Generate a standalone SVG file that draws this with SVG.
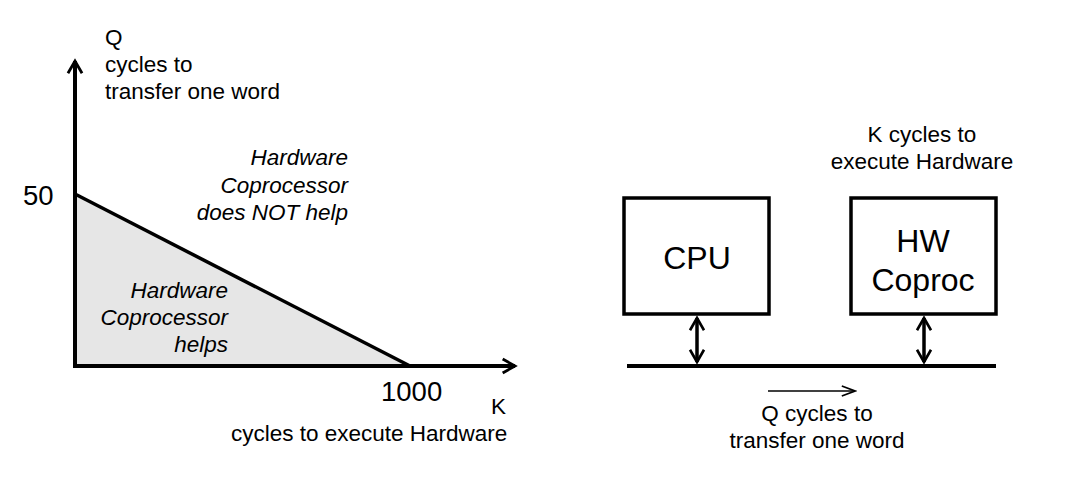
<svg xmlns="http://www.w3.org/2000/svg" width="1070" height="496" viewBox="0 0 1070 496">
<style>
text{font-family:"Liberation Sans",Arial,sans-serif;fill:#000}
.t{font-size:22.5px}
.n{font-size:27.5px}
.i{font-size:22.5px;font-style:italic}
.b{font-size:32px}
.ln{stroke:#000;fill:none}
</style>
<defs>
<marker id="ah" viewBox="0 0 10 10" refX="8" refY="5" markerWidth="4.4" markerHeight="4.4" orient="auto-start-reverse" markerUnits="strokeWidth">
<path d="M1,1 L8,5 L1,9" fill="none" stroke="#000" stroke-width="1.6"/>
</marker>
<marker id="ah3" viewBox="0 0 10 10" refX="8" refY="5" markerWidth="5" markerHeight="5" orient="auto-start-reverse" markerUnits="strokeWidth">
<path d="M1,1 L8,5 L1,9" fill="none" stroke="#000" stroke-width="1.5"/>
</marker>
<marker id="ah2" viewBox="0 0 10 10" refX="9" refY="5" markerWidth="11" markerHeight="11" orient="auto" markerUnits="strokeWidth">
<path d="M1,2 L9,5 L1,8" fill="none" stroke="#000" stroke-width="1"/>
</marker>
</defs>
<rect width="1070" height="496" fill="#fff"/>
<g id="chart">
<polygon points="75,194 410,366 75,366" fill="#e6e6e6"/>
<line class="ln" x1="75" y1="194" x2="410" y2="366" stroke-width="3.5"/>
<line class="ln" x1="75" y1="366" x2="75" y2="61" stroke-width="4" marker-end="url(#ah)"/>
<line class="ln" x1="73" y1="366" x2="515" y2="366" stroke-width="4" marker-end="url(#ah)"/>
<text class="t" x="105" y="45">Q</text>
<text class="t" x="105" y="72">cycles to</text>
<text class="t" x="105" y="99">transfer one word</text>
<text class="n" x="23" y="205">50</text>
<text class="n" x="381" y="401">1000</text>
<text class="t" x="491" y="414">K</text>
<text class="t" x="231" y="441">cycles to execute Hardware</text>
<g text-anchor="end">
<text class="i" x="348" y="165">Hardware</text>
<text class="i" x="348" y="193">Coprocessor</text>
<text class="i" x="348" y="220">does NOT help</text>
<text class="i" x="228" y="298">Hardware</text>
<text class="i" x="228" y="325">Coprocessor</text>
<text class="i" x="228" y="352">helps</text>
</g>
</g>
<g id="cpu">
<rect x="624" y="198" width="145" height="116" fill="#fff" stroke="#000" stroke-width="3.5"/>
<text class="b" x="697" y="269" text-anchor="middle">CPU</text>
</g>
<g id="hw">
<rect x="851" y="198" width="145" height="116" fill="#fff" stroke="#000" stroke-width="3.5"/>
<text class="b" x="923" y="252" text-anchor="middle">HW</text>
<text class="b" x="923" y="291" text-anchor="middle">Coproc</text>
<text class="t" x="922" y="142" text-anchor="middle">K cycles to</text>
<text class="t" x="922" y="169" text-anchor="middle">execute Hardware</text>
</g>
<g id="bus">
<line class="ln" x1="627" y1="366" x2="996" y2="366" stroke-width="4"/>
<text class="t" x="817" y="421" text-anchor="middle">Q cycles to</text>
<text class="t" x="817" y="448" text-anchor="middle">transfer one word</text>
</g>
<g id="connectors">
<line class="ln" x1="697" y1="318" x2="697" y2="362" stroke-width="3.5" marker-start="url(#ah3)" marker-end="url(#ah3)"/>
<line class="ln" x1="924" y1="318" x2="924" y2="362" stroke-width="3.5" marker-start="url(#ah3)" marker-end="url(#ah3)"/>
<line class="ln" x1="768" y1="391" x2="855" y2="391" stroke-width="1.5" marker-end="url(#ah2)"/>
</g>
</svg>
